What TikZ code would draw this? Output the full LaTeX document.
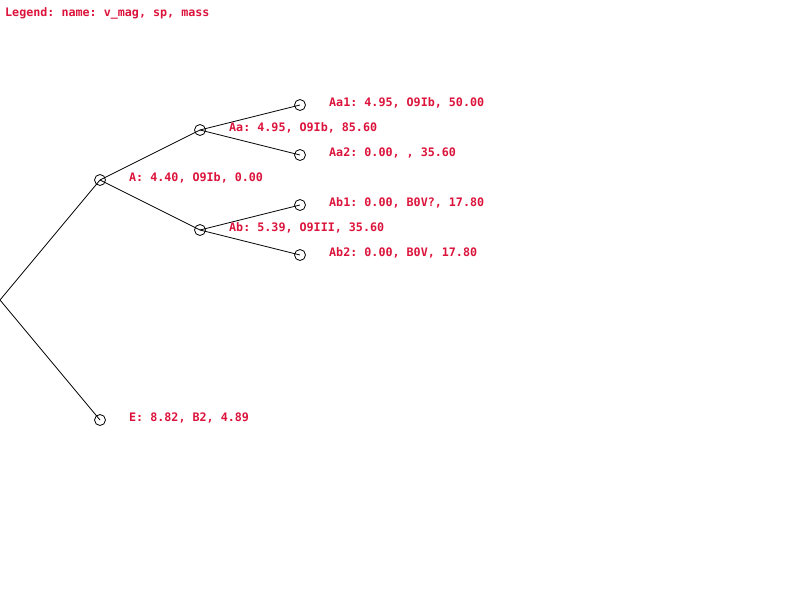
\documentclass[tikz,border=0pt]{standalone}
\usepackage{fontspec}
\setmonofont{DejaVu Sans Mono}
\definecolor{lbl}{RGB}{220,20,60}
\tikzset{
  star/.style={draw=black,circle,inner sep=0pt,minimum size=11pt,line width=0.8pt},
  lab/.style={anchor=west,inner sep=0pt,text=lbl,font=\ttfamily\bfseries\fontsize{11.7}{12}\selectfont},
  edge/.style={draw=black,line width=0.8pt}
}
\begin{document}
\begin{tikzpicture}[x=1pt,y=-1pt]
\useasboundingbox (0,0) rectangle (800,600);
\coordinate (root) at (0,300);
\coordinate (A) at (100,180);
\coordinate (Aa) at (200,130);
\coordinate (Aa1) at (300,105);
\coordinate (Aa2) at (300,155);
\coordinate (Ab) at (200,230);
\coordinate (Ab1) at (300,205);
\coordinate (Ab2) at (300,255);
\coordinate (E) at (100,420);
\draw[edge] (root) -- (A);
\draw[edge] (root) -- (E);
\draw[edge] (A) -- (Aa);
\draw[edge] (A) -- (Ab);
\draw[edge] (Aa) -- (Aa1);
\draw[edge] (Aa) -- (Aa2);
\draw[edge] (Ab) -- (Ab1);
\draw[edge] (Ab) -- (Ab2);
\foreach \n in {A,Aa,Aa1,Aa2,Ab,Ab1,Ab2,E} \node[star] (c\n) at (\n) {};
\node[lab] (legend) at (5,13) {Legend: name: v\_mag, sp, mass};
\node[lab] (lA) at (129,178) {A: 4.40, O9Ib, 0.00};
\node[lab] (lAa) at (229,128) {Aa: 4.95, O9Ib, 85.60};
\node[lab] (lAa1) at (329,103) {Aa1: 4.95, O9Ib, 50.00};
\node[lab] (lAa2) at (329,153) {Aa2: 0.00, , 35.60};
\node[lab] (lAb) at (229,228) {Ab: 5.39, O9III, 35.60};
\node[lab] (lAb1) at (329,203) {Ab1: 0.00, B0V?, 17.80};
\node[lab] (lAb2) at (329,253) {Ab2: 0.00, B0V, 17.80};
\node[lab] (lE) at (129,418) {E: 8.82, B2, 4.89};
\end{tikzpicture}
\end{document}
